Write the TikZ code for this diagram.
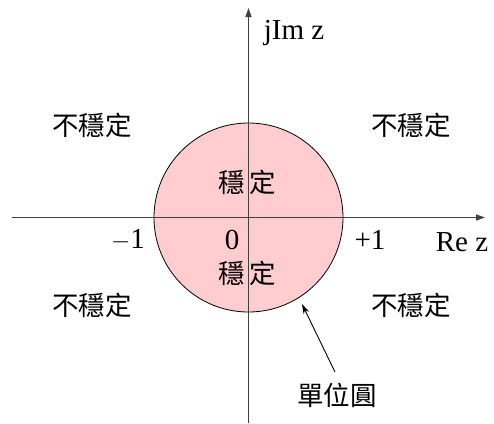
\documentclass[tikz,border=0pt]{standalone}
\usepackage{fontspec}
\setmainfont{Liberation Serif}
\newfontfamily\cjk{Noto Sans CJK TC}
\usetikzlibrary{arrows.meta}
\definecolor{diskpink}{RGB}{255,204,208}
\begin{document}
\begin{tikzpicture}[x=1pt,y=-1pt,
  axis/.style={line width=1.3pt,draw=black!75,-{Triangle[length=9pt,width=6pt]}},
  lat/.style={font=\fontsize{29}{32}\selectfont,inner sep=0pt},
  han/.style={font=\cjk\fontsize{26.5}{30}\selectfont,inner sep=0pt},
  ptr/.style={line width=0.9pt,-{Stealth[length=10pt,width=6pt]}}]
\useasboundingbox (0,0) rectangle (494,423);
\fill[white] (0,0) rectangle (494,423);
% unit disk
\filldraw[fill=diskpink,draw=black,line width=0.8pt] (248.5,217.5) circle[radius=94.5];
% axes
\coordinate (xl) at (12,217.5);
\coordinate (xr) at (485,217.5);
\coordinate (yb) at (248.5,423);
\coordinate (yt) at (248.5,8);
\draw[axis] (xl) -- (xr);
\draw[axis] (yb) -- (yt);
% axis labels
\node[lat] (im) at (294,33) {jIm z};
\node[lat] (re) at (462,242) {Re z};
\node[lat] (m1) at (128,240) {$-$1};
\node[lat] (p1) at (370,240) {+1};
\node[lat] (zero) at (232,240) {0};
% regions
\node[han] (ul) at (92,125) {不穩定};
\node[han] (ur) at (411,125) {不穩定};
\node[han] (ll) at (92,305) {不穩定};
\node[han] (lr) at (411,305) {不穩定};
\node[han] (st) at (247,182) {穩\hspace{5pt}定};
\node[han] (sb) at (247,273) {穩\hspace{5pt}定};
% unit circle label
\node[han] (uc) at (337,395) {單位圓};
\coordinate (ucs) at (335,372);
\coordinate (uct) at (302,304);
\draw[ptr] (ucs) -- (uct);
\end{tikzpicture}
\end{document}
